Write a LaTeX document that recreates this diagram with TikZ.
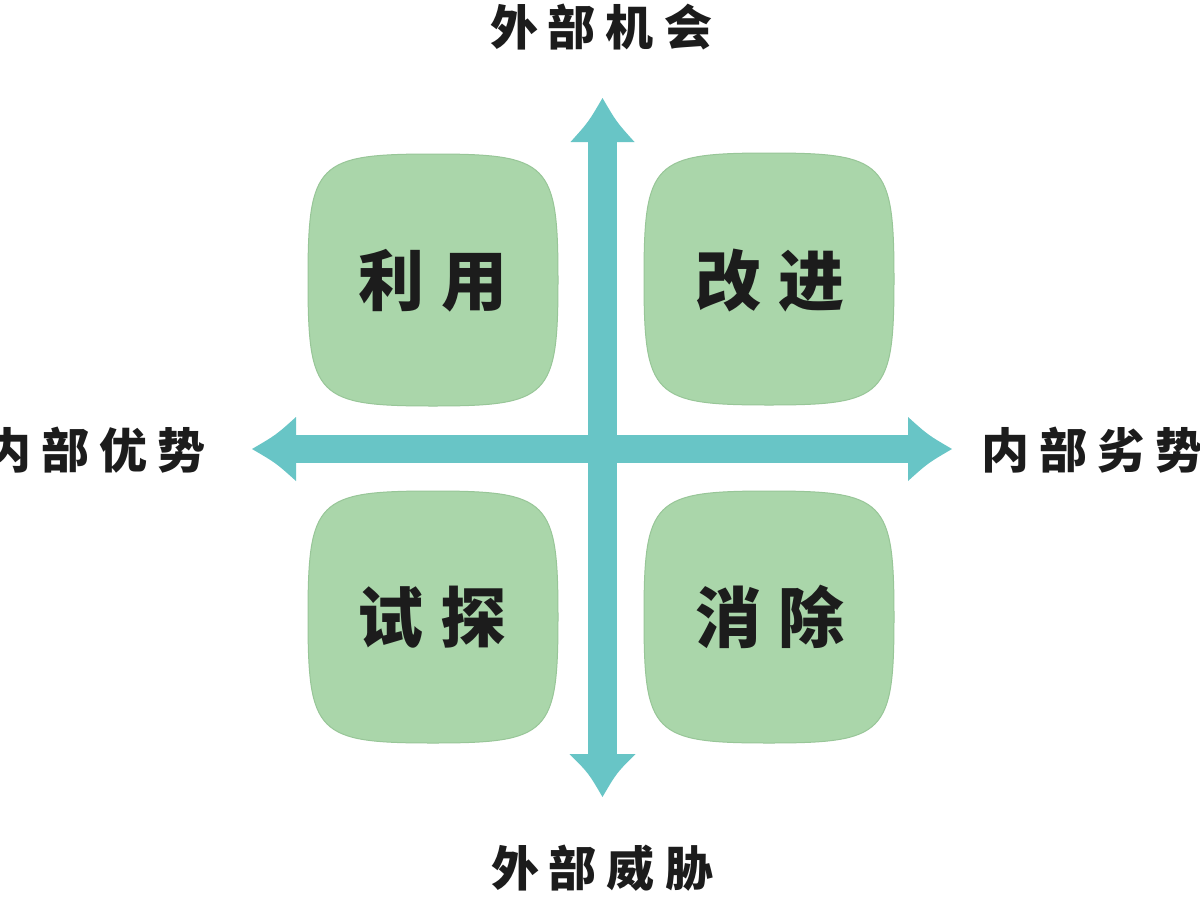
\documentclass[tikz,border=0pt]{standalone}
\usepackage{fontspec}
\setmainfont{Noto Sans CJK SC}
\usetikzlibrary{calc}
\definecolor{boxgreen}{RGB}{170,214,170}
\definecolor{boxedge}{RGB}{152,198,152}
\definecolor{axisteal}{RGB}{104,197,198}
\definecolor{inkcol}{RGB}{28,28,28}
\tikzset{
  boxtext/.style={font=\bfseries\fontsize{66pt}{70pt}\selectfont, text=inkcol, inner sep=0pt},
  axislabel/.style={font=\bfseries\fontsize{48pt}{52pt}\selectfont, text=inkcol, inner sep=0pt},
  quad/.style={fill=boxgreen, draw=boxedge, line width=1pt},
  axisfill/.style={fill=axisteal},
  squircle/.pic={
    \path[quad] (0,-126) .. controls (116,-126) and (125,-117) .. (125,0)
      .. controls (125,117) and (116,126) .. (0,126)
      .. controls (-116,126) and (-125,117) .. (-125,0)
      .. controls (-125,-117) and (-116,-126) .. (0,-126) -- cycle;
  }
}
\begin{document}
\begin{tikzpicture}[x=1pt,y=-1pt]
\useasboundingbox (0,0) rectangle (1200,900);
\fill[white] (0,0) rectangle (1200,900);

% axis end points
\coordinate (N) at (602.5,98);
\coordinate (S) at (602.5,797);
\coordinate (W) at (252,449);
\coordinate (E) at (952,449);

% shafts
\fill[axisfill] ($(N)+(-14.5,43)$) rectangle ($(S)+(14.5,-42)$);
\fill[axisfill] ($(W)+(43,-14)$) rectangle ($(E)+(-43,14)$);
% heads
\fill[axisfill] ($(N)+(-32,44)$) .. controls ($(N)+(-14,24)$) .. (N)
  .. controls ($(N)+(14,24)$) .. ($(N)+(32,44)$) -- cycle;
\fill[axisfill] ($(S)+(-33,-43)$) .. controls ($(S)+(-14,-24)$) .. (S)
  .. controls ($(S)+(14,-24)$) .. ($(S)+(33,-43)$) -- cycle;
\fill[axisfill] ($(E)+(-44,-32)$) .. controls ($(E)+(-24,-14)$) .. (E)
  .. controls ($(E)+(-24,14)$) .. ($(E)+(-44,32)$) -- cycle;
\fill[axisfill] ($(W)+(44,-32)$) .. controls ($(W)+(24,-14)$) .. (W)
  .. controls ($(W)+(24,14)$) .. ($(W)+(44,32)$) -- cycle;

% quadrant boxes
\pic at (433,280) {squircle};
\pic at (769,279) {squircle};
\pic at (433,617) {squircle};
\pic at (769,617) {squircle};

\node[boxtext] (q1) at (433,281) {利\kern18pt 用};
\node[boxtext] (q2) at (770,281) {改\kern18pt 进};
\node[boxtext] (q3) at (432,617) {试\kern18pt 探};
\node[boxtext] (q4) at (770,617) {消\kern18pt 除};

% axis labels
\node[axislabel] (top) at (601,27) {外\kern10pt 部\kern10pt 机\kern10pt 会};
\node[axislabel] (bottom) at (602,868) {外\kern10pt 部\kern10pt 威\kern10pt 胁};
\node[axislabel, anchor=east] (left) at (206,450) {内\kern10pt 部\kern10pt 优\kern10pt 势};
\node[axislabel, anchor=west] (right) at (981,450) {内\kern10pt 部\kern10pt 劣\kern10pt 势};
\end{tikzpicture}
\end{document}
